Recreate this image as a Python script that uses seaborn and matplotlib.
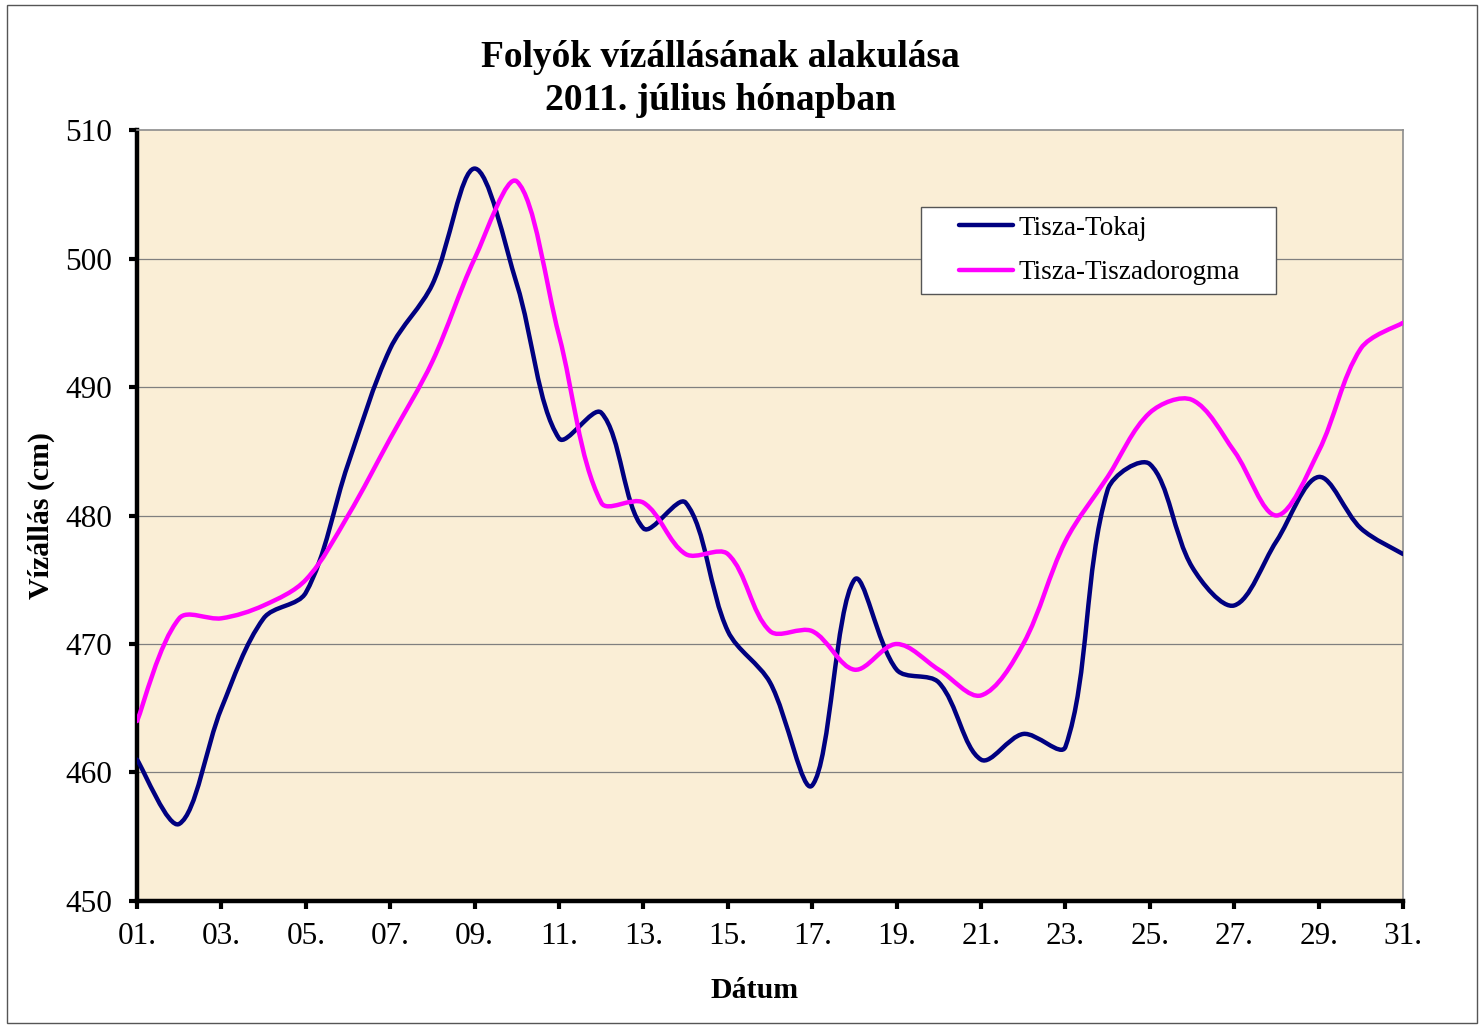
import numpy as np
import pandas as pd
import matplotlib
matplotlib.use("Agg")
import matplotlib.pyplot as plt
from matplotlib.path import Path
from matplotlib.patches import PathPatch, Rectangle
from matplotlib.lines import Line2D
import seaborn as sns

# daily water levels (cm), July 2011
days = list(range(1, 32))
tokaj = [461, 456, 465, 472, 474, 484, 493, 498, 507, 498,
         486, 488, 479, 481, 471, 467, 459, 475, 468, 467,
         461, 463, 462, 482, 484, 476, 473, 478, 483, 479, 477]
tiszadorogma = [464, 472, 472, 473, 475, 480, 486, 492, 500, 506,
                494, 481, 481, 477, 477, 471, 471, 468, 470, 468,
                466, 470, 478, 483, 488, 489, 485, 480, 485, 493, 495]
series_names = ["Tisza-Tokaj", "Tisza-Tiszadorogma"]
series_colors = ["#000080", "#FF00FF"]
tick_days = list(range(1, 32, 2))
tick_labels = ["%02d." % d for d in tick_days]

sns.set_style("white")
plt.rcParams['font.family'] = ['Liberation Serif', 'DejaVu Serif']
plt.rcParams['text.color'] = 'black'
plt.rcParams['xtick.color'] = 'black'
plt.rcParams['ytick.color'] = 'black'
plt.rcParams['axes.labelcolor'] = 'black'

df = pd.DataFrame({'Dátum': days, series_names[0]: tokaj, series_names[1]: tiszadorogma})

# px per unit, used so the smoothing behaves like the spreadsheet one
SX, SY = 42.2, 12.85


def smooth_path(x, y):
    # cubic bezier through every point, tangents scaled by segment lengths
    x = np.asarray(x, float)
    y = np.asarray(y, float)
    n = len(x)
    p = np.column_stack([x * SX, y * SY])
    verts = [(x[0], y[0])]
    codes = [Path.MOVETO]

    def tangent(i):
        a = p[max(i - 1, 0)]
        b = p[min(i + 1, n - 1)]
        return b - a

    def seglen(i, j):
        return np.hypot(*(p[j] - p[i]))

    for i in range(n - 1):
        d = seglen(i, i + 1)
        db = seglen(i - 1, i) if i > 0 else d
        df_ = seglen(i + 1, i + 2) if i + 2 < n else d
        t0 = tangent(i)
        t1 = tangent(i + 1)
        k0 = d / (d + db) / 1.5 if i > 0 else 1 / 3.0
        k1 = d / (d + df_) / 1.5 if i + 2 < n else 1 / 3.0
        c1 = p[i] + t0 * k0 * 0.5
        c2 = p[i + 1] - t1 * k1 * 0.5
        for c in (c1, c2, p[i + 1]):
            verts.append((c[0] / SX, c[1] / SY))
        codes += [Path.CURVE4] * 3
    return Path(verts, codes)


fig = plt.figure(figsize=(14.8, 10.27), dpi=100)
ax = fig.add_axes([0.0926, 0.1227, 0.8554, 0.7507])
ax.set_facecolor('#FAEED6')

handles = []
for name, col in zip(series_names, series_colors):
    ax.add_patch(PathPatch(smooth_path(df['Dátum'], df[name]), fill=False,
                           edgecolor=col, lw=3.2, capstyle='round', joinstyle='round',
                           zorder=3))
    handles.append(Line2D([0], [0], color=col, lw=3.2, solid_capstyle='round'))

ax.set_xlim(1, 31)
ax.set_ylim(450, 510)
ax.set_yticks(range(450, 511, 10))
ax.set_xticks(tick_days)
ax.set_xticklabels(tick_labels)

for v in range(460, 510, 10):
    ax.axhline(v, color='#7f7f7f', lw=0.9, zorder=1)

for s in ['left', 'bottom']:
    ax.spines[s].set_color('black')
    ax.spines[s].set_linewidth(3.2)
for s in ['top', 'right']:
    ax.spines[s].set_color('#8c8c8c')
    ax.spines[s].set_linewidth(1.2)

ax.tick_params(axis='both', direction='out', length=6, width=3, color='black',
               labelsize=22.5, bottom=True, left=True)
ax.tick_params(axis='y', pad=12)
ax.tick_params(axis='x', pad=9)

ax.set_xlabel('Dátum', fontsize=21.5, fontweight='bold')
ax.set_ylabel('Vízállás (cm)', fontsize=21.5, fontweight='bold')
ax.xaxis.set_label_coords(0.488, -0.098)
ax.yaxis.set_label_coords(-0.065, 0.5)

fig.text(0.487, 0.923, 'Folyók vízállásának alakulása\n2011. július hónapban',
         ha='center', va='center', fontsize=27, fontweight='bold', linespacing=1.3)

# legend box
ax.add_patch(Rectangle((0.619, 0.787), 0.281, 0.113, transform=ax.transAxes,
                       facecolor='white', edgecolor='#555555', lw=1, zorder=4))
ax.legend(handles, series_names, loc='center left', bbox_to_anchor=(0.6495, 0.8435),
          frameon=False, fontsize=19.5, handlelength=2.0, handletextpad=0.2,
          labelspacing=0.72, borderpad=0, borderaxespad=0).set_zorder(5)

fig.patches.append(Rectangle((0.005, 0.004), 0.993, 0.991, transform=fig.transFigure,
                             fill=False, edgecolor='#555555', lw=1))

fig.savefig('out.png', dpi=100)
